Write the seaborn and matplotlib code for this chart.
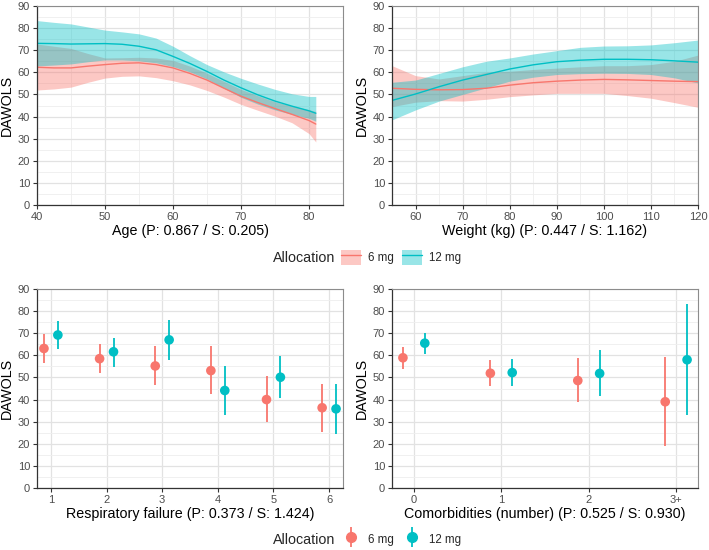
import matplotlib
matplotlib.use("Agg")
import matplotlib.pyplot as plt
from matplotlib.lines import Line2D
from matplotlib.patches import Patch
from matplotlib.ticker import MultipleLocator
import numpy as np
import pandas as pd
import seaborn as sns

# --- data ---
groups = ["6 mg", "12 mg"]
colors = {"6 mg": "#F8766D", "12 mg": "#00BFC4"}

age_x = [40, 42.5, 45, 47.5, 50, 52.5, 55, 57.5, 60, 62.5, 65, 67.5, 70, 72.5, 75, 77.5, 80, 81]
age_6_fit = [62.3, 62.0, 62.0, 62.8, 63.5, 64.1, 64.3, 63.5, 62.0, 59.5, 56.5, 52.8, 49.2, 46.3, 43.6, 41.0, 38.2, 36.6]
age_6_hi = [72.8, 71.8, 70.8, 68.5, 66.5, 66.6, 66.8, 66.5, 65.4, 62.8, 59.6, 55.9, 52.3, 49.4, 46.7, 44.8, 43.1, 42.3]
age_6_lo = [52.0, 52.5, 53.3, 55.5, 57.4, 58.2, 58.4, 57.6, 56.2, 54.3, 51.8, 48.8, 45.5, 42.8, 40.2, 37.2, 32.3, 28.5]
age_12_fit = [73.1, 73.0, 72.8, 72.9, 73.0, 72.7, 71.8, 70.2, 67.2, 64.0, 60.4, 56.5, 53.0, 49.8, 47.0, 44.7, 42.6, 41.5]
age_12_hi = [83.4, 82.6, 81.9, 80.5, 79.1, 78.3, 77.4, 75.5, 71.8, 67.5, 63.5, 60.2, 57.3, 54.7, 52.3, 50.3, 49.1, 49.1]
age_12_lo = [62.9, 63.3, 63.8, 64.8, 65.6, 65.6, 65.2, 64.3, 62.6, 60.2, 57.0, 52.8, 48.7, 45.6, 43.0, 41.0, 39.2, 37.9]

wt_x = [55, 60, 65, 70, 75, 80, 85, 90, 95, 100, 105, 110, 115, 120]
wt_6_fit = [52.8, 52.3, 52.1, 52.2, 52.8, 54.2, 55.3, 56.0, 56.5, 56.8, 56.6, 56.3, 56.0, 55.8]
wt_6_hi = [63.0, 58.5, 57.0, 58.5, 60.0, 60.5, 61.3, 61.9, 62.5, 63.0, 63.0, 63.5, 65.0, 67.8]
wt_6_lo = [44.5, 46.5, 47.2, 47.0, 47.8, 49.0, 49.8, 50.5, 50.5, 50.5, 49.5, 48.3, 46.3, 44.2]
wt_12_fit = [47.3, 50.2, 53.5, 56.5, 59.0, 61.5, 63.4, 64.8, 65.5, 65.9, 65.9, 65.7, 65.2, 64.6]
wt_12_hi = [55.5, 56.5, 59.5, 62.5, 65.0, 66.5, 68.3, 69.8, 71.3, 71.9, 72.0, 72.4, 73.4, 74.6]
wt_12_lo = [38.5, 43.0, 47.0, 50.0, 53.0, 56.0, 57.8, 59.0, 59.4, 59.6, 59.5, 59.0, 57.5, 55.2]

resp_cats = ["1", "2", "3", "4", "5", "6"]
resp_6_est = [63.1, 58.5, 55.2, 53.1, 40.0, 36.3]
resp_6_lo = [56.4, 52.2, 46.5, 42.3, 29.7, 25.4]
resp_6_hi = [69.5, 65.0, 64.1, 64.0, 50.7, 47.1]
resp_12_est = [69.2, 61.6, 67.0, 44.1, 50.1, 35.8]
resp_12_lo = [62.9, 54.9, 58.0, 33.1, 40.6, 24.4]
resp_12_hi = [75.6, 68.0, 76.0, 55.2, 59.5, 47.1]

comorb_cats = ["0", "1", "2", "3+"]
comorb_6_est = [58.9, 51.9, 48.6, 39.0]
comorb_6_lo = [53.9, 46.2, 38.7, 18.8]
comorb_6_hi = [63.7, 57.9, 58.9, 59.2]
comorb_12_est = [65.5, 52.2, 51.8, 58.0]
comorb_12_lo = [60.8, 46.2, 41.4, 32.8]
comorb_12_hi = [70.1, 58.2, 62.3, 83.2]

sns.set_style("white")
plt.rcParams["font.family"] = ["Liberation Sans", "DejaVu Sans"]

TICK_COL = "#4D4D4D"
W, H = 709, 550


def smooth_frame(x, fits, his, los):
    rows = []
    for g, fit, hi, lo in zip(groups, fits, his, los):
        for xi, f, h, l in zip(x, fit, hi, lo):
            rows.append({"x": xi, "fit": f, "hi": h, "lo": l, "Allocation": g})
    return pd.DataFrame(rows)


def dot_frame(cats, ests, los, his, dodge=0.125):
    rows = []
    for gi, (g, est, lo, hi) in enumerate(zip(groups, ests, los, his)):
        off = -dodge if gi == 0 else dodge
        for ci, (e, l, h) in enumerate(zip(est, lo, hi)):
            rows.append({"pos": ci + off, "est": e, "lo": l, "hi": h, "Allocation": g})
    return pd.DataFrame(rows)


def style_axes(ax, xlabel):
    ax.set_ylim(0, 90)
    ax.yaxis.set_major_locator(MultipleLocator(10))
    ax.yaxis.set_minor_locator(MultipleLocator(5))
    ax.grid(which="major", color="#E2E2E2", linewidth=0.9)
    ax.grid(which="minor", color="#EEEEEE", linewidth=0.6)
    ax.set_axisbelow(True)
    for side in ["top", "right"]:
        ax.spines[side].set_color("#8C8C8C")
        ax.spines[side].set_linewidth(0.8)
    for side in ["left", "bottom"]:
        ax.spines[side].set_color("#333333")
        ax.spines[side].set_linewidth(0.9)
    ax.tick_params(which="major", direction="out", length=3, width=0.8,
                   color="#333333", labelcolor=TICK_COL, labelsize=8, pad=2,
                   left=True, bottom=True)
    ax.tick_params(which="minor", length=0)
    ax.set_ylabel("DAWOLS", fontsize=10.3, color="black")
    ax.set_xlabel(xlabel, fontsize=10.3, color="black")
    bb = ax.get_position()
    ax.yaxis.set_label_coords(-23 / (bb.width * W), 0.5)
    ax.xaxis.set_label_coords(0.5, -19 / (bb.height * H))


def draw_smooth(ax, df):
    for g in groups:
        sub = df[df["Allocation"] == g]
        ax.fill_between(sub["x"], sub["lo"], sub["hi"], color=colors[g],
                        alpha=0.4, linewidth=0)
    sns.lineplot(data=df, x="x", y="fit", hue="Allocation", palette=colors,
                 hue_order=groups, estimator=None, errorbar=None, legend=False,
                 linewidth=1.0, ax=ax)


def draw_dots(ax, df, cats):
    for g in groups:
        sub = df[df["Allocation"] == g]
        ax.vlines(sub["pos"], sub["lo"], sub["hi"], color=colors[g], linewidth=1.3)
    sns.scatterplot(data=df, x="pos", y="est", hue="Allocation", palette=colors,
                    hue_order=groups, s=48, edgecolor="none", legend=False,
                    zorder=3, ax=ax)
    ax.set_xticks(range(len(cats)))
    ax.set_xticklabels(cats)
    ax.set_xlim(-0.25, len(cats) - 0.75)
    ax.xaxis.set_minor_locator(matplotlib.ticker.NullLocator())


fig = plt.figure(figsize=(W / 100, H / 100), dpi=100)


def add_axes(left, top, right, bottom):
    return fig.add_axes([left / W, 1 - bottom / H, (right - left) / W, (bottom - top) / H])


ax1 = add_axes(37, 6, 343, 205)
ax2 = add_axes(392, 6, 698, 205)
ax3 = add_axes(37, 289, 343, 488)
ax4 = add_axes(392, 289, 698, 488)

draw_smooth(ax1, smooth_frame(age_x, [age_6_fit, age_12_fit], [age_6_hi, age_12_hi], [age_6_lo, age_12_lo]))
ax1.set_xlim(40, 85)
ax1.xaxis.set_major_locator(MultipleLocator(10))
ax1.xaxis.set_minor_locator(MultipleLocator(5))
style_axes(ax1, "Age (P: 0.867 / S: 0.205)")

draw_smooth(ax2, smooth_frame(wt_x, [wt_6_fit, wt_12_fit], [wt_6_hi, wt_12_hi], [wt_6_lo, wt_12_lo]))
ax2.set_xlim(55, 120)
ax2.xaxis.set_major_locator(MultipleLocator(10))
ax2.xaxis.set_minor_locator(MultipleLocator(5))
style_axes(ax2, "Weight (kg) (P: 0.447 / S: 1.162)")

draw_dots(ax3, dot_frame(resp_cats, [resp_6_est, resp_12_est], [resp_6_lo, resp_12_lo], [resp_6_hi, resp_12_hi]), resp_cats)
style_axes(ax3, "Respiratory failure (P: 0.373 / S: 1.424)")

draw_dots(ax4, dot_frame(comorb_cats, [comorb_6_est, comorb_12_est], [comorb_6_lo, comorb_12_lo], [comorb_6_hi, comorb_12_hi]), comorb_cats)
style_axes(ax4, "Comorbidities (number) (P: 0.525 / S: 0.930)")

# legends
line_handles = [(Patch(facecolor=colors[g], alpha=0.4, linewidth=0),
                 Line2D([], [], color=colors[g], linewidth=1.0)) for g in groups]
dot_handles = [(Line2D([], [], color=colors[g], marker="|", markersize=15, markeredgewidth=1.3, linestyle=""),
                Line2D([], [], color=colors[g], marker="o", markersize=7, linestyle=""))
               for g in groups]

for handles, yc in [(line_handles, 257.5), (dot_handles, 539.5)]:
    fig.text(273 / W, 1 - yc / H, "Allocation", fontsize=10.3, va="center", ha="left")
    fig.legend(handles, groups, loc="center left", bbox_to_anchor=(341 / W, 1 - yc / H),
               ncol=2, frameon=False, fontsize=8.3, handlelength=1.75, handleheight=1.75,
               handletextpad=0.55, columnspacing=0.75, borderpad=0, borderaxespad=0)

fig.savefig("out.png", dpi=100)
